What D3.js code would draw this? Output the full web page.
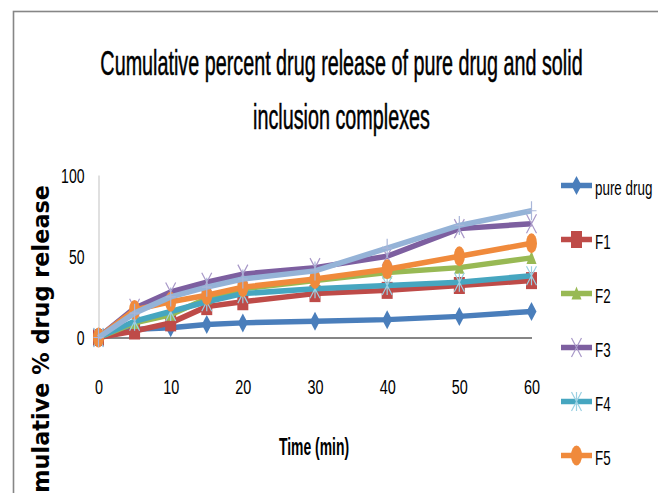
<!DOCTYPE html>
<html>
<head>
<meta charset="utf-8">
<script src="https://cdn.jsdelivr.net/npm/d3@7"></script>
<style>
  html, body { margin: 0; padding: 0; background: #ffffff; }
  svg { display: block; }
</style>
</head>
<body>
<svg id="chart" width="658" height="493"></svg>
<script>
// Sampling times (min) and cumulative % drug release for each formulation
const times = [0, 5, 10, 15, 20, 30, 40, 50, 60];
const pureDrug = [0, 5, 6, 8, 9, 10, 11, 13, 16];
const f1 = [0, 4, 9, 19, 22, 27, 29, 32, 35];
const f2 = [0, 9, 14, 24, 30, 35, 40, 43, 49];
const f3 = [0, 18, 28, 34, 39, 43, 50, 67, 70];
const f4 = [0, 10, 16, 22, 27, 30, 32, 34, 38];
const f5 = [0, 17, 22, 26, 31, 36, 42, 50, 58];
const f6 = [0, 15, 25, 31, 36, 41, 55, 69, 78];

const seriesNames = ["pure drug", "F1", "F2", "F3", "F4", "F5", "F6"];
const seriesValues = [pureDrug, f1, f2, f3, f4, f5, f6];

const xTicks = [0, 10, 20, 30, 40, 50, 60];
const yTicks = [0, 50, 100];

const titleLines = ["Cumulative percent drug release of pure drug and solid", "inclusion complexes"];
const xTitle = "Time (min)";
const yTitle = "Cumulative % drug release";

// Look of each series: line colour, marker shape, marker colour
const styles = [
  { color: "#4A7EBB", marker: "diamond",  mColor: "#4A7EBB" },
  { color: "#BE4B48", marker: "square",   mColor: "#BE4B48" },
  { color: "#98B954", marker: "triangle", mColor: "#98B954" },
  { color: "#7D5FA0", marker: "x",        mColor: "#A898C8" },
  { color: "#46A6C0", marker: "star",     mColor: "#9AD0E2" },
  { color: "#F08A3C", marker: "circle",   mColor: "#F08A3C" },
  { color: "#95B3D7", marker: "plus",     mColor: "#A9B6D9" }
];

// the legend box only has room for the first six entries
const legendCount = 6;

const svg = d3.select("#chart");
const FONT = "'Liberation Sans', Arial, sans-serif";

// chart frame
svg.append("rect")
  .attr("x", 13.5).attr("y", 11.5)
  .attr("width", 700).attr("height", 600)
  .attr("fill", "#ffffff")
  .attr("stroke", "#868686").attr("stroke-width", 1.6);

// horizontally condensed text helper
function ctext(parent, str, x, y, size, sx, opts = {}) {
  const t = parent.append("text")
    .attr("transform", `translate(${x},${y}) scale(${sx},1)`)
    .attr("text-anchor", opts.anchor || "start")
    .attr("font-family", opts.family || FONT)
    .attr("font-weight", opts.weight || "normal")
    .attr("font-size", size)
    .attr("fill", "#000")
    .text(str);
  if (opts.stroke) t.attr("stroke", "#000").attr("stroke-width", opts.stroke);
  return t;
}

// title
ctext(svg, titleLines[0], 341.5, 75, 35, 0.565, { anchor: "middle", stroke: 0.5 });
ctext(svg, titleLines[1], 341.5, 128.5, 35, 0.565, { anchor: "middle", stroke: 0.5 });

// scales
const x = d3.scaleLinear().domain([0, 60]).range([98.5, 531.5]);
const y = d3.scaleLinear().domain([0, 100]).range([337.5, 175]);

// y axis
const yAxis = svg.append("g")
  .attr("transform", `translate(${x(0)},0)`)
  .call(d3.axisLeft(y).tickValues(yTicks).tickSize(0).tickPadding(0));
yAxis.select(".domain").attr("stroke", "#D9D9D9").attr("stroke-width", 1.6);
yAxis.selectAll(".tick text")
  .attr("x", null).attr("dy", null)
  .attr("transform", "translate(-14,7) scale(0.72,1)")
  .attr("text-anchor", "end")
  .attr("font-family", FONT).attr("font-size", 19.5).attr("fill", "#000");

// x axis
const xAxis = svg.append("g")
  .attr("transform", `translate(0,${y(0)})`)
  .call(d3.axisBottom(x).tickValues(xTicks).tickSize(0).tickPadding(0));
xAxis.select(".domain").attr("stroke", "#868686").attr("stroke-width", 1.8);
xAxis.selectAll(".tick text")
  .attr("y", null).attr("dy", null)
  .attr("transform", "translate(0,56) scale(0.74,1)")
  .attr("text-anchor", "middle")
  .attr("font-family", FONT).attr("font-size", 19.5).attr("fill", "#000");

// axis titles
ctext(svg, xTitle, 314, 454.5, 24, 0.58, { anchor: "middle", weight: "bold" });
svg.append("text")
  .attr("transform", "translate(49,185) rotate(-90)")
  .attr("text-anchor", "end")
  .attr("font-family", "'DejaVu Sans', Verdana, sans-serif")
  .attr("font-weight", "bold")
  .attr("font-size", 22.4)
  .attr("fill", "#000")
  .text(yTitle);

// marker drawing
function drawMarker(g, kind, cx, cy, color) {
  const w = 10, h = 19;
  if (kind === "diamond") {
    g.append("path").attr("d", `M${cx},${cy - h / 2}L${cx + w / 2},${cy}L${cx},${cy + h / 2}L${cx - w / 2},${cy}Z`)
      .attr("fill", color);
  } else if (kind === "square") {
    g.append("rect").attr("x", cx - 5.5).attr("y", cy - 8.5).attr("width", 11).attr("height", 17)
      .attr("fill", color);
  } else if (kind === "triangle") {
    g.append("path").attr("d", `M${cx},${cy - 7}L${cx + 5},${cy + 6}L${cx - 5},${cy + 6}Z`)
      .attr("fill", color);
  } else if (kind === "circle") {
    g.append("ellipse").attr("cx", cx).attr("cy", cy).attr("rx", 5.5).attr("ry", 10)
      .attr("fill", color);
  } else if (kind === "x") {
    g.append("path").attr("d", `M${cx - w / 2},${cy - h / 2}L${cx + w / 2},${cy + h / 2}M${cx + w / 2},${cy - h / 2}L${cx - w / 2},${cy + h / 2}`)
      .attr("stroke", color).attr("stroke-width", 1.2).attr("fill", "none");
  } else if (kind === "star") {
    g.append("path").attr("d", `M${cx - w / 2},${cy - h / 2}L${cx + w / 2},${cy + h / 2}M${cx + w / 2},${cy - h / 2}L${cx - w / 2},${cy + h / 2}M${cx},${cy - h / 2}L${cx},${cy + h / 2}`)
      .attr("stroke", color).attr("stroke-width", 1.2).attr("fill", "none");
  } else if (kind === "plus") {
    g.append("path").attr("d", `M${cx},${cy - h / 2}L${cx},${cy + h / 2}M${cx - w / 2},${cy}L${cx + w / 2},${cy}`)
      .attr("stroke", color).attr("stroke-width", 1.2).attr("fill", "none");
  }
}

// series
const line = d3.line().x(d => x(d[0])).y(d => y(d[1]));
const plot = svg.append("g");
seriesValues.forEach((vals, i) => {
  const st = styles[i];
  const pts = times.map((t, j) => [t, vals[j]]);
  const g = plot.append("g");
  g.append("path").datum(pts)
    .attr("d", line)
    .attr("fill", "none")
    .attr("stroke", st.color)
    .attr("stroke-width", 5.5)
    .attr("stroke-linejoin", "round");
  pts.forEach(p => drawMarker(g, st.marker, x(p[0]), y(p[1]), st.mColor));
});

// legend
const legend = svg.append("g");
seriesNames.slice(0, legendCount).forEach((name, i) => {
  const st = styles[i];
  const ly = 185.5 + i * 54;
  const g = legend.append("g");
  g.append("line")
    .attr("x1", 561).attr("x2", 592).attr("y1", ly).attr("y2", ly)
    .attr("stroke", st.color).attr("stroke-width", 5.5);
  drawMarker(g, st.marker, 576.5, ly, st.mColor);
  ctext(g, name, 595, ly + 9.5, 20, 0.67);
});
</script>
</body>
</html>
